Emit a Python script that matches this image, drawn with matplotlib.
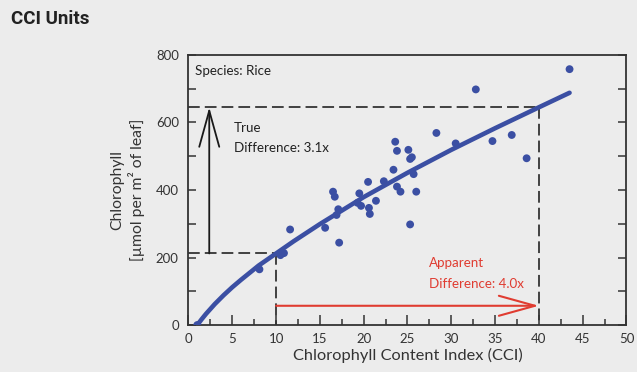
import numpy as np
from matplotlib import pyplot as plt
from matplotlib.ticker import MultipleLocator

plt.rcParams['font.family'] = ['Lato', 'DejaVu Sans']

# scatter data
cci = [1.0, 8.1, 10.5, 10.9, 11.6, 15.6, 16.5, 16.7, 16.9, 17.1, 17.2, 19.3, 19.5,
       19.7, 20.5, 20.6, 20.7, 21.4, 22.3, 23.4, 23.6, 23.8, 23.8, 24.2, 25.1, 25.3,
       25.3, 25.5, 25.7, 26.0, 28.3, 30.5, 32.8, 34.7, 36.9, 38.6, 43.5]
chl = [0, 165, 207, 213, 283, 288, 395, 380, 326, 343, 244, 362, 390,
       353, 424, 347, 329, 368, 426, 460, 543, 516, 410, 395, 519, 492,
       298, 497, 447, 395, 569, 538, 698, 545, 563, 494, 758]

# fitted curve, points
fit_x = [1, 1.5, 2, 3, 4, 5, 6, 8, 10, 12, 15, 20, 25, 30, 35, 40, 43.5]
fit_y = [0, 17, 33, 62, 88, 112, 134, 176, 212, 248, 299, 379, 451, 519, 583, 645, 688]

low_cci, high_cci = 10, 40
low_chl, high_chl = 212, 645

bg = '#ececec'
blue = '#3b4fa3'
red = '#e03c31'
dark = '#333333'

fig = plt.figure(figsize=(6.37, 3.72), dpi=100, facecolor=bg)
ax = fig.add_axes([0.2959, 0.1263, 0.6876, 0.7259], facecolor=bg)

ax.plot(fit_x, fit_y, color=blue, lw=3.3, solid_capstyle='round',
        solid_joinstyle='round', zorder=3)
ax.scatter(cci, chl, s=32, color=blue, edgecolors='none', zorder=4)

dash = dict(color=dark, lw=1.3, dashes=(6.5, 2.8), zorder=2)
ax.plot([0, high_cci], [high_chl, high_chl], **dash)
ax.plot([high_cci, high_cci], [high_chl, 0], **dash)
ax.plot([0, low_cci], [low_chl, low_chl], **dash)
ax.plot([low_cci, low_cci], [low_chl, 0], **dash)

ax.annotate('', xy=(2.37, high_chl), xytext=(2.37, low_chl),
            arrowprops=dict(arrowstyle='->,head_length=2.6,head_width=0.72',
                            mutation_scale=10, color='#1a1a1a', lw=1.3,
                            shrinkA=0, shrinkB=0))
ax.annotate('', xy=(high_cci, 57), xytext=(low_cci, 57),
            arrowprops=dict(arrowstyle='->,head_length=2.6,head_width=0.72',
                            mutation_scale=10, color=red, lw=1.5,
                            shrinkA=0, shrinkB=0))

fs = 9.6
ax.text(5.2, 585, 'True', fontsize=fs, color='#222222', va='center')
ax.text(5.2, 525, 'Difference: 3.1x', fontsize=fs, color='#222222', va='center')
ax.text(27.5, 183, 'Apparent', fontsize=fs, color=red, va='center')
ax.text(27.5, 121, 'Difference: 4.0x', fontsize=fs, color=red, va='center')
ax.text(0.75, 753, 'Species: Rice', fontsize=fs, color='#222222', va='center')

ax.set_xlim(0, 50)
ax.set_ylim(0, 800)
ax.xaxis.set_major_locator(MultipleLocator(5))
ax.xaxis.set_minor_locator(MultipleLocator(2.5))
ax.yaxis.set_major_locator(MultipleLocator(200))
ax.yaxis.set_minor_locator(MultipleLocator(100))
ax.tick_params(axis='x', which='major', direction='in', length=7.5, width=1.1,
               color=dark, labelsize=9.5, labelcolor=dark, pad=6)
ax.tick_params(axis='x', which='minor', direction='in', length=4.5, width=1.1, color=dark)
ax.tick_params(axis='y', which='both', direction='in', length=5.5, width=1.1,
               color=dark, right=True, labelsize=9.5, labelcolor=dark, pad=7)
for s in ax.spines.values():
    s.set_color(dark)
    s.set_linewidth(1.3)

ax.set_xlabel('Chlorophyll Content Index (CCI)', fontsize=11.8, color=dark, labelpad=2)
ax.set_ylabel('Chlorophyll\n[µmol per m² of leaf]', fontsize=11.3, color=dark,
              labelpad=8, linespacing=1.25)

fig.text(0.018, 0.95, 'CCI Units', fontsize=13.5, fontweight='bold',
         family=['Roboto', 'DejaVu Sans'], color='#222222', va='center')

fig.savefig('out.png', dpi=100, facecolor=bg)
